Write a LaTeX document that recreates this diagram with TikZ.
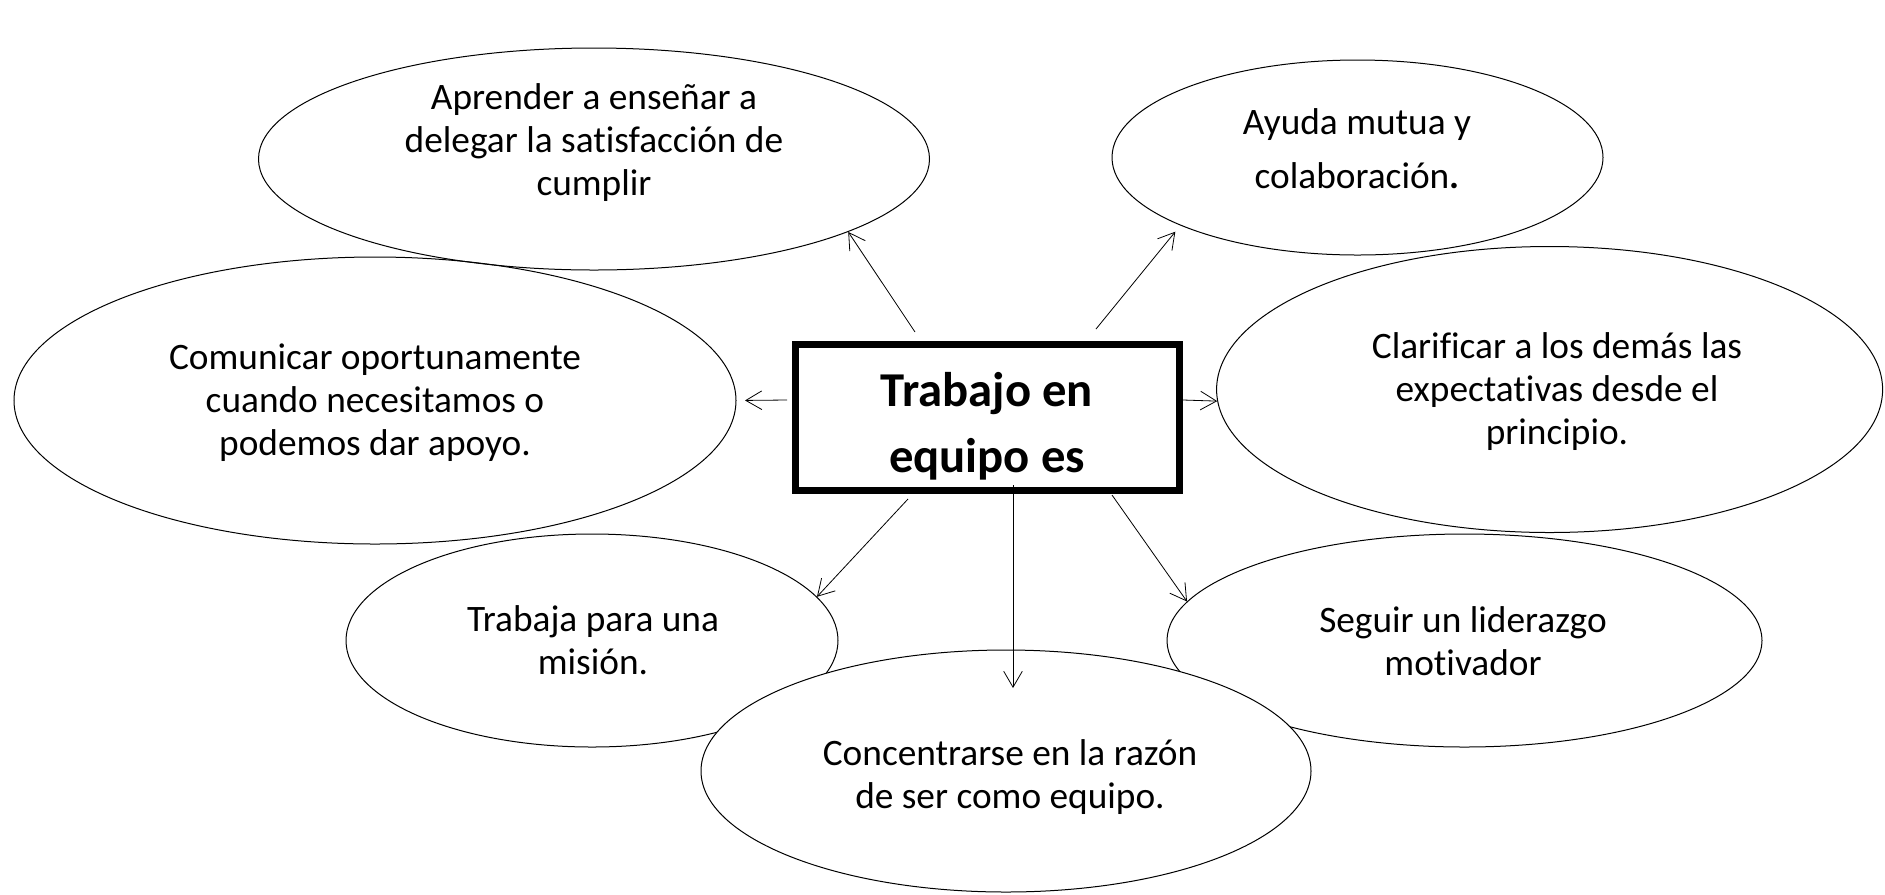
\documentclass[tikz,border=0pt]{standalone}
\usepackage{fontspec}
\setmainfont{Carlito}[Ligatures=CommonOff]
\usetikzlibrary{shapes.geometric,arrows.meta}

\tikzset{
    burbuja/.style 2 args={ellipse, draw, line width=0.75pt, inner sep=0pt,
        minimum width=#1*0.75pt, minimum height=#2*0.75pt},
    texto/.style={align=center, inner sep=0pt, font=\fontsize{28pt}{32.25pt}\selectfont},
    flecha/.style={line width=0.6pt, -{Straight Barb[length=12pt,width=14pt]}}
}

\begin{document}
\begin{tikzpicture}[x=0.75pt,y=-0.75pt]
    % Rahmen des Bildes
    \useasboundingbox (0,0) rectangle (1885,894);

    % Ellipsen
    \node[burbuja={671}{222}] (aprender) at (594,159) {};
    \node[burbuja={491}{195}] (ayuda) at (1357.5,157.5) {};
    \node[burbuja={722}{287}] (comunicar) at (375,400.5) {};
    \node[burbuja={666}{286}] (clarificar) at (1549.6,389.5) {};
    \node[burbuja={492}{213}] (trabaja) at (592,640.5) {};
    \node[burbuja={595}{213}] (seguir) at (1464.5,640.5) {};
    \node[burbuja={610}{242}, fill=white] (concentrarse) at (1006,771) {};

    % Kasten in der Mitte
    \node[draw, line width=5.25pt, inner sep=0pt,
          minimum width=288pt, minimum height=109.5pt] (tema) at (987.5,417.5) {};

    % Beschriftungen
    \node[texto] (t-aprender) at (594,142.5) {Aprender a enseñar a\\delegar la satisfacción de\\cumplir};
    \node[texto, font=\fontsize{28pt}{40.5pt}\selectfont] (t-ayuda) at (1357,149) {Ayuda mutua y\\colaboración\textbf{.}};
    \node[texto] (t-comunicar) at (375,403) {Comunicar oportunamente\\cuando necesitamos o\\podemos dar apoyo.};
    \node[texto] (t-clarificar) at (1557,391.5) {Clarificar a los demás las\\expectativas desde el\\principio.};
    \node[texto] (t-trabaja) at (593,640) {Trabaja para una\\misión.};
    \node[texto] (t-seguir) at (1463,641) {Seguir un liderazgo\\motivador};
    \node[texto] (t-concentrarse) at (1010,777) {Concentrarse en la razón\\de ser como equipo.};
    \node[texto, font=\fontsize{36.5pt}{49.5pt}\selectfont\bfseries] (t-tema) at (987,426.5) {Trabajo en\\equipo es};

    % Startpunkte der Pfeile
    \coordinate (p-aprender) at (915,332);
    \coordinate (p-ayuda) at (1096,329);
    \coordinate (p-comunicar) at (787,400);
    \coordinate (p-clarificar) at (1183,400);
    \coordinate (p-trabaja) at (908,499);
    \coordinate (p-concentrarse) at (1013,485);
    \coordinate (q-concentrarse) at (1013,688);
    \coordinate (p-seguir) at (1112,495);

    % Pfeile
    \draw[flecha] (p-aprender) -- (aprender.-16);
    \draw[flecha, shorten >=6pt] (p-ayuda) -- (ayuda.201);
    \draw[flecha, shorten >=6.4pt] (p-comunicar) -- (comunicar.0);
    \draw[flecha] (p-clarificar) -- (clarificar.182);
    \draw[flecha] (p-trabaja) -- (trabaja.11);
    \draw[flecha] (p-concentrarse) -- (q-concentrarse);
    \draw[flecha] (p-seguir) -- (seguir.172);
\end{tikzpicture}
\end{document}
